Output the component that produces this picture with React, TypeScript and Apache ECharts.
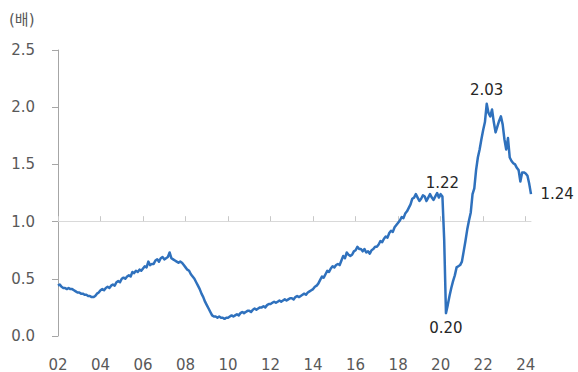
import React, { useEffect, useRef } from "react";
import * as echarts from "echarts";

// Monthly job-openings-per-unemployed ratio (times), Jan 2002 – Apr 2024
const startYear = 2002;

const ratio2002to2007 = [
  0.44, 0.45, 0.43, 0.42, 0.42, 0.41, 0.42, 0.41, 0.41, 0.4, 0.39, 0.38,
  0.38, 0.37, 0.37, 0.36, 0.36, 0.35, 0.35, 0.34, 0.34, 0.35, 0.37, 0.38,
  0.4, 0.41, 0.4, 0.42, 0.43, 0.42, 0.44, 0.45, 0.44, 0.47, 0.48, 0.47,
  0.5, 0.51, 0.5, 0.52, 0.53, 0.52, 0.56, 0.55, 0.57, 0.56, 0.58, 0.57,
  0.59, 0.61, 0.6, 0.65, 0.62, 0.63, 0.63, 0.66, 0.67, 0.65, 0.68, 0.69,
  0.67, 0.68, 0.69, 0.73, 0.68, 0.67, 0.66, 0.65, 0.64, 0.65, 0.64, 0.62,
];

const ratio2008to2013 = [
  0.6, 0.58, 0.57, 0.54, 0.52, 0.5, 0.47, 0.44, 0.41, 0.37, 0.34, 0.3,
  0.27, 0.24, 0.21, 0.18, 0.17, 0.17, 0.16, 0.17, 0.16, 0.16, 0.15, 0.16,
  0.16, 0.17, 0.18, 0.17, 0.18, 0.19, 0.18, 0.2, 0.21, 0.2, 0.21, 0.22,
  0.22, 0.21, 0.23, 0.24, 0.23, 0.24, 0.25, 0.25, 0.26, 0.25, 0.27, 0.28,
  0.28, 0.29, 0.3, 0.29, 0.3, 0.31, 0.3, 0.31, 0.32, 0.31, 0.32, 0.33,
  0.33, 0.32, 0.34, 0.35, 0.34, 0.35, 0.36, 0.37, 0.36, 0.38, 0.39, 0.4,
];

const ratio2014to2019 = [
  0.41, 0.43, 0.44, 0.46, 0.49, 0.52, 0.51, 0.54, 0.57, 0.56, 0.59, 0.61,
  0.6, 0.62, 0.63, 0.62, 0.66, 0.7, 0.68, 0.73, 0.71, 0.7, 0.71, 0.74,
  0.75, 0.78, 0.76, 0.76, 0.74, 0.76, 0.73, 0.74, 0.72, 0.75, 0.76, 0.78,
  0.78, 0.8, 0.83, 0.82, 0.85, 0.87, 0.86, 0.9, 0.92, 0.91, 0.95, 0.97,
  0.99, 1.01, 1.04, 1.03, 1.07, 1.09, 1.12, 1.15, 1.2, 1.21, 1.24, 1.21,
  1.18, 1.2, 1.23, 1.22, 1.18, 1.21, 1.24, 1.21, 1.19, 1.22, 1.25, 1.21,
];

const ratio2020to2024 = [
  1.24, 1.22, 0.84, 0.2, 0.27, 0.35, 0.42, 0.48, 0.53, 0.6, 0.61, 0.62,
  0.65, 0.74, 0.83, 0.93, 1.01, 1.08, 1.24, 1.29, 1.45, 1.56, 1.63, 1.72,
  1.8, 1.87, 2.03, 1.95, 1.92, 1.98, 1.87, 1.78, 1.83, 1.88, 1.92, 1.85,
  1.72, 1.63, 1.73, 1.56, 1.53, 1.51, 1.5, 1.47, 1.45, 1.35, 1.43, 1.43,
  1.42, 1.4, 1.33, 1.24,
];

const ratios = [
  ...ratio2002to2007,
  ...ratio2008to2013,
  ...ratio2014to2019,
  ...ratio2020to2024,
];

const months = ratios.map((_, i) => {
  const y = startYear + Math.floor(i / 12);
  const m = (i % 12) + 1;
  return `${y}-${m < 10 ? "0" + m : m}`;
});

// Points whose values are written on the chart
const callouts: { month: string; position: "top" | "bottom" | "right"; distance: number }[] = [
  { month: "2020-02", position: "top", distance: 5 },
  { month: "2020-04", position: "bottom", distance: 7 },
  { month: "2022-03", position: "top", distance: 6 },
  { month: "2024-04", position: "right", distance: 9 },
];

const yTicks = { min: 0, max: 2.5, step: 0.5 };
const crossAt = 1.0;
const labelEvery = 24; // one label every two years

const FONT = '"DejaVu Sans", "Noto Sans CJK KR", sans-serif';

export default function App() {
  const ref = useRef<HTMLDivElement>(null);

  useEffect(() => {
    if (!ref.current) return;
    const chart = echarts.init(ref.current, undefined, { renderer: "svg" });

    const gridTop = 50;
    const gridBottom = 35;
    const plotHeight = 372 - gridTop - gridBottom;
    const crossOffset = -(plotHeight * (crossAt - yTicks.min)) / (yTicks.max - yTicks.min);

    const markData = callouts.map((c) => {
      const idx = months.indexOf(c.month);
      const v = ratios[idx];
      return {
        coord: [c.month, v],
        value: v,
        label: {
          show: true,
          position: c.position,
          distance: c.distance,
          formatter: v.toFixed(2),
          color: "#262626",
          fontSize: 15,
          fontFamily: FONT,
        },
      };
    });

    const showEvery = (i: number) => i % labelEvery === 0;

    chart.setOption({
      animation: false,
      backgroundColor: "#ffffff",
      grid: { left: 58, right: 47, top: gridTop, bottom: gridBottom, containLabel: false },
      graphic: [
        {
          type: "text",
          left: 9,
          top: 12,
          style: { text: "(배)", fontSize: 15, fill: "#595959", fontFamily: FONT },
        },
      ],
      xAxis: [
        {
          type: "category",
          data: months,
          boundaryGap: false,
          position: "bottom",
          axisLine: { show: false, onZero: false },
          axisTick: { show: false },
          axisLabel: {
            interval: (i: number) => showEvery(i),
            formatter: (v: string) => v.slice(2, 4),
            color: "#595959",
            fontSize: 15,
            fontFamily: FONT,
            margin: 21,
          },
          splitLine: { show: false },
        },
        {
          type: "category",
          data: months,
          boundaryGap: false,
          position: "bottom",
          offset: crossOffset,
          axisLine: { show: true, onZero: false, lineStyle: { color: "#d9d9d9", width: 1 } },
          axisTick: {
            show: true,
            inside: true,
            length: 5,
            interval: (i: number) => showEvery(i),
            lineStyle: { color: "#c8c8c8", width: 1 },
          },
          axisLabel: { show: false },
          splitLine: { show: false },
        },
      ],
      yAxis: {
        type: "value",
        min: yTicks.min,
        max: yTicks.max,
        interval: yTicks.step,
        axisLine: { show: true, lineStyle: { color: "#a6a6a6", width: 1 } },
        axisTick: { show: true, length: 6, lineStyle: { color: "#a6a6a6" } },
        axisLabel: {
          formatter: (v: number) => v.toFixed(1),
          color: "#595959",
          fontSize: 15,
          fontFamily: FONT,
          margin: 23,
        },
        splitLine: { show: false },
      },
      series: [
        {
          type: "line",
          xAxisIndex: 0,
          data: ratios,
          symbol: "none",
          smooth: false,
          lineStyle: { color: "#2f71bd", width: 2.5, join: "round" },
          z: 5,
          markPoint: {
            symbol: "circle",
            symbolSize: 1,
            itemStyle: { color: "rgba(0,0,0,0)" },
            data: markData,
          },
        },
      ],
    });

    return () => chart.dispose();
  }, []);

  return (
    <div
      ref={ref}
      style={{ position: "fixed", left: 0, top: 0, width: 578, height: 372, background: "#fff" }}
    />
  );
}
